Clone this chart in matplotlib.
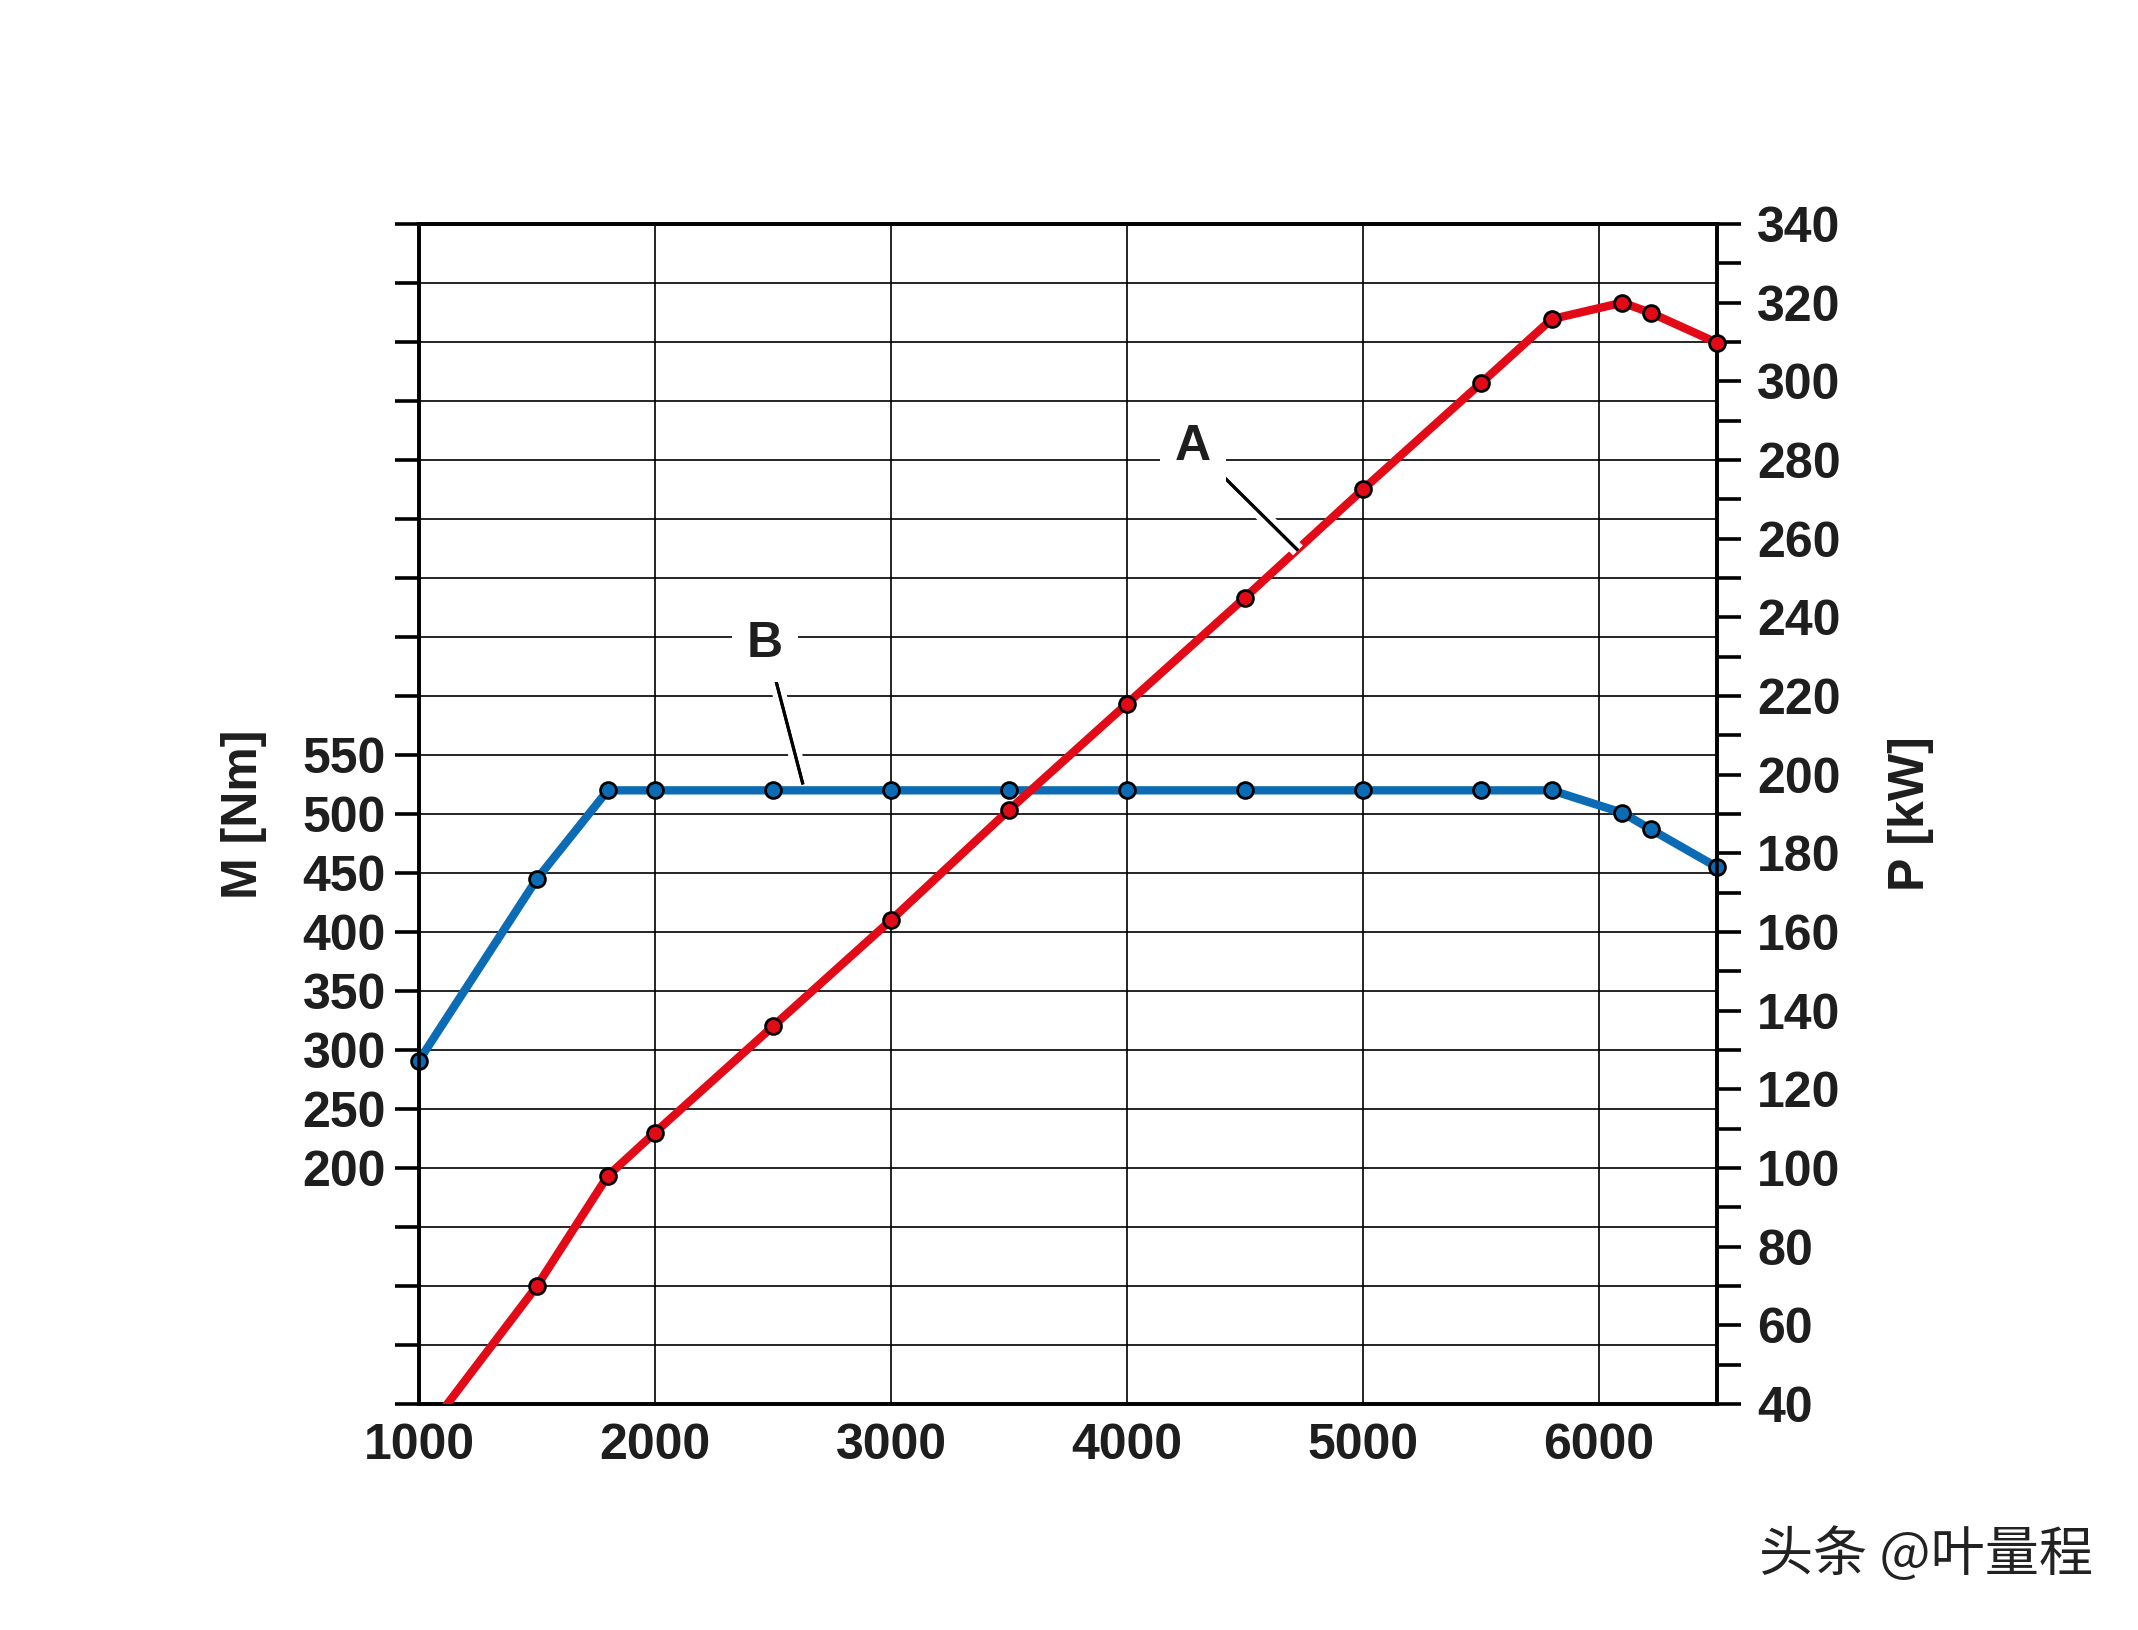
import matplotlib
matplotlib.use("Agg")
import matplotlib.pyplot as plt
import matplotlib.patheffects as pe
import numpy as np

# ---- data ----
rpm_torque = [1000, 1500, 1800, 2000, 2500, 3000, 3500, 4000, 4500, 5000, 5500, 5800, 6100, 6220, 6500]
torque_nm = [291, 445, 520, 520, 520, 520, 520, 520, 520, 520, 520, 520, 501, 487, 455]

rpm_power = [1000, 1500, 1800, 2000, 2500, 3000, 3500, 4000, 4500, 5000, 5500, 5800, 6100, 6220, 6500]
power_kw = [30.5, 70, 98, 109, 136, 163, 191, 218, 245, 272.5, 299.5, 315.8, 320, 317.4, 309.8]

x_ticks = [1000, 2000, 3000, 4000, 5000, 6000]
torque_ticks = list(range(0, 1001, 50))
torque_labels = [200, 250, 300, 350, 400, 450, 500, 550]
power_ticks = list(range(40, 341, 10))
power_labels = list(range(40, 341, 20))

RED = "#e30a17"
BLUE = "#0b6cb5"
TXT = "#1e1e1e"
FONT = "Liberation Sans"
FS = 36

fig = plt.figure(figsize=(21.38, 16.30), dpi=100)
ax = fig.add_axes([0.196, 0.1387, 0.607, 0.7239])
ax2 = ax.twinx()

ax.set_xlim(1000, 6500)
ax.set_ylim(0, 1000)
ax2.set_ylim(40, 340)

# grid
for v in torque_ticks[1:-1]:
    ax.axhline(v, color="black", lw=1.2, zorder=1)
for v in x_ticks[1:]:
    ax.axvline(v, color="black", lw=1.2, zorder=1)

mk = dict(marker="o", s=130, linewidths=2.0, edgecolors="black", clip_on=False, zorder=4)

# torque curve (B)
ax.plot(rpm_torque, torque_nm, color=BLUE, lw=6, zorder=3, solid_joinstyle="round")
tq = np.array(torque_nm)
rt = np.array(rpm_torque)
m = (tq >= ax.get_ylim()[0]) & (tq <= ax.get_ylim()[1])
ax.scatter(rt[m], tq[m], c=BLUE, **mk)

# power curve (A)
ax2.plot(rpm_power, power_kw, color=RED, lw=6, zorder=3, solid_joinstyle="round")
pw = np.array(power_kw)
rp = np.array(rpm_power)
m2 = (pw >= ax2.get_ylim()[0]) & (pw <= ax2.get_ylim()[1])
ax2.scatter(rp[m2], pw[m2], c=RED, **mk)

# spines & ticks
for a in (ax, ax2):
    for s in a.spines.values():
        s.set_linewidth(2.6)
        s.set_color("black")
        s.set_zorder(2)

ax.set_xticks(x_ticks)
ax.set_xticklabels([str(v) for v in x_ticks])
ax.tick_params(axis="x", length=0, pad=14, labelsize=FS, labelcolor=TXT)
ax.set_yticks(torque_ticks)
ax.set_yticklabels([str(v) if v in torque_labels else "" for v in torque_ticks])
ax.tick_params(axis="y", direction="out", length=17, width=2.6, pad=7, labelsize=FS, labelcolor=TXT)

ax2.set_yticks(power_ticks)
ax2.set_yticklabels([str(v) if v in power_labels else "" for v in power_ticks])
ax2.tick_params(axis="y", direction="out", length=17, width=2.6, pad=12, labelsize=FS, labelcolor=TXT)

for lab in ax.get_xticklabels() + ax.get_yticklabels() + ax2.get_yticklabels():
    lab.set_fontfamily(FONT)
    lab.set_fontweight("bold")

ax.set_ylabel("M [Nm]", fontsize=FS, fontweight="bold", family=FONT, color=TXT, labelpad=0)
ax.yaxis.set_label_coords(-0.117, 0.5)
ax2.set_ylabel("P [kW]", fontsize=FS, fontweight="bold", family=FONT, color=TXT, rotation=90)
ax2.yaxis.set_label_coords(1.132, 0.5)

halo = [pe.withStroke(linewidth=10, foreground="white"), pe.Normal()]

# annotation A
ax2.plot([4407, 4725], [275.9, 257.0], color="black", lw=2.2, zorder=5, path_effects=halo,
         solid_capstyle="butt")
ax2.text(4280, 283.3, "A", fontsize=FS, fontweight="bold", family=FONT, color=TXT,
         ha="center", va="center", zorder=6,
         bbox=dict(boxstyle="square,pad=0.3", fc="white", ec="none"))

# annotation B
ax.plot([2506, 2627], [617.8, 525], color="black", lw=2.2, zorder=5, path_effects=halo,
        solid_capstyle="butt")
ax.text(2466, 644, "B", fontsize=FS, fontweight="bold", family=FONT, color=TXT,
        ha="center", va="center", zorder=6,
        bbox=dict(boxstyle="square,pad=0.3", fc="white", ec="none"))

fig.text(0.979, 0.046, "头条 @叶量程", fontsize=39, family=["Noto Sans CJK SC", "DejaVu Sans"],
         color="#222222", ha="right", va="center")

fig.savefig("out.png", dpi=100, facecolor="white")
